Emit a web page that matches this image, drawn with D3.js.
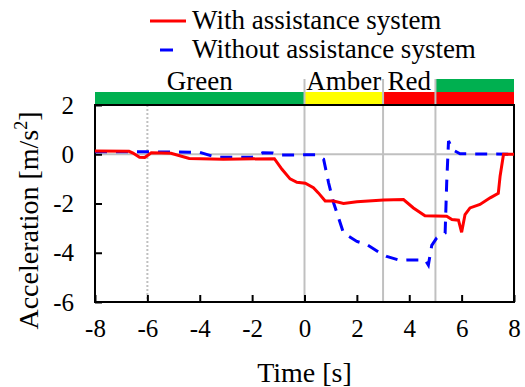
<!DOCTYPE html>
<html>
<head>
<meta charset="utf-8">
<script src="https://cdn.jsdelivr.net/npm/d3@7"></script>
<style>
  body { margin: 0; background: #fff; }
  svg text { font-family: "Liberation Serif", "Times New Roman", serif; fill: #000; }
</style>
</head>
<body>
<svg id="chart" width="525" height="387"></svg>
<script>
// data: [time s, acceleration m/s^2]
const withSystem = [
  [-8, 0.13], [-6.7, 0.12], [-6.55, 0.05], [-6.3, -0.12], [-6.1, -0.13], [-5.85, 0.06],
  [-5.1, 0.04], [-4.4, -0.17], [-3.1, -0.2], [-1.15, -0.18], [-0.86, -0.61],
  [-0.55, -1.0], [-0.29, -1.14], [0.03, -1.18], [0.34, -1.36], [0.53, -1.57],
  [0.79, -1.9], [1.11, -1.9], [1.49, -2.0], [2.0, -1.93], [3.02, -1.86],
  [3.78, -1.84], [4.16, -2.18], [4.6, -2.5], [5.43, -2.52], [5.63, -2.65],
  [5.88, -2.68], [6.0, -3.17], [6.13, -2.45], [6.32, -2.18], [6.7, -2.04],
  [7.09, -1.77], [7.4, -1.59], [7.47, -0.88], [7.6, 0.0], [8, 0.0]
];
const withoutSystem = [
  [-8, 0.1], [-6.3, 0.1], [-4.0, 0.08], [-3.4, -0.12], [-2.0, -0.12], [-1.6, 0.06],
  [-1.2, 0.05], [-0.9, -0.03], [0.47, -0.02], [0.73, -0.2], [0.92, -1.16],
  [1.11, -1.97], [1.49, -3.2], [2.0, -3.54], [2.38, -3.67], [2.89, -4.01],
  [3.14, -4.15], [3.65, -4.31], [4.1, -4.29], [4.61, -4.29], [4.73, -4.5],
  [4.86, -3.7], [5.05, -3.4], [5.37, -3.2], [5.43, -1.16], [5.5, 0.54],
  [5.66, 0.18], [5.94, 0.02], [8, 0.0]
];

const phases = [
  { name: "Green", from: -8, to: 0, color: "#00b050" },
  { name: "Amber", from: 0, to: 3, color: "#ffff00" },
  { name: "Red", from: 3, to: 5, color: "#ff0000" },
  { name: "", from: 5, to: 8, color: "#ff0000" }
];
const extraPhase = { from: 5, to: 8, color: "#00b050" }; // green drawn on top of red after 5 s

const xTicks = [-8, -6, -4, -2, 0, 2, 4, 6, 8];
const yTicks = [-6, -4, -2, 0, 2];
const phaseLines = [0, 3, 5];

const serif = '"Liberation Serif", "Times New Roman", serif';
const svg = d3.select("#chart");
const margin = { left: 95, right: 11, top: 105, bottom: 85 };
const width = 525, height = 387;

const x = d3.scaleLinear().domain([-8, 8]).range([margin.left, width - margin.right]);
const y = d3.scaleLinear().domain([-6, 2]).range([height - margin.bottom, margin.top]);

// phase bars above the plot
const barH = 13;
svg.selectAll(".phase").data(phases).enter().append("rect")
  .attr("x", d => x(d.from)).attr("width", d => x(d.to) - x(d.from))
  .attr("y", y(2) - barH).attr("height", barH)
  .attr("fill", d => d.color);
svg.append("rect")
  .attr("x", x(extraPhase.from)).attr("width", x(extraPhase.to) - x(extraPhase.from))
  .attr("y", y(2) - 2 * barH).attr("height", barH)
  .attr("fill", extraPhase.color);

svg.selectAll(".phaseLabel").data(phases.filter(d => d.name)).enter().append("text")
  .attr("x", d => (x(d.from) + x(d.to)) / 2)
  .attr("y", y(2) - barH - 2)
  .attr("text-anchor", "middle")
  .style("font-size", "27px")
  .text(d => d.name);

// grey reference lines
svg.append("line")
  .attr("x1", x(-8)).attr("x2", x(8)).attr("y1", y(0)).attr("y2", y(0))
  .attr("stroke", "#c0c0c0").attr("stroke-width", 2);
svg.selectAll(".pl").data(phaseLines).enter().append("line")
  .attr("x1", d => x(d)).attr("x2", d => x(d))
  .attr("y1", y(2) - 2 * barH).attr("y2", y(-6))
  .attr("stroke", "#c0c0c0").attr("stroke-width", 2);
svg.append("line")
  .attr("x1", x(-6)).attr("x2", x(-6)).attr("y1", y(2)).attr("y2", y(-6))
  .attr("stroke", "#c0c0c0").attr("stroke-width", 2).attr("stroke-dasharray", "2,2");

// axes, ticks pointing inward
const xAxis = svg.append("g").attr("transform", `translate(0,${y(-6)})`)
  .call(d3.axisBottom(x).tickValues(xTicks).tickSize(-7).tickPadding(17).tickFormat(d3.format("d")));
const yAxis = svg.append("g").attr("transform", `translate(${x(-8)},0)`)
  .call(d3.axisLeft(y).tickValues(yTicks).tickSize(-7).tickPadding(21).tickFormat(d3.format("d")));
[xAxis, yAxis].forEach(a => {
  a.attr("font-family", serif).attr("font-size", 25);
  a.select(".domain").remove();
  a.selectAll(".tick line").attr("stroke", "#000").attr("stroke-width", 2);
  a.selectAll(".tick text").style("font-family", serif).style("font-size", "25px");
});
xAxis.selectAll(".tick text").text(d => d < 0 ? "-" + Math.abs(d) : d);
yAxis.selectAll(".tick text").text(d => d < 0 ? "-" + Math.abs(d) : d);

// frame
svg.append("rect")
  .attr("x", x(-8)).attr("y", y(2))
  .attr("width", x(8) - x(-8)).attr("height", y(-6) - y(2))
  .attr("fill", "none").attr("stroke", "#000").attr("stroke-width", 2);

// lines
const line = d3.line().x(d => x(d[0])).y(d => y(d[1]));
svg.append("path").datum(withoutSystem).attr("d", line)
  .attr("fill", "none").attr("stroke", "#0000ff").attr("stroke-width", 3)
  .attr("stroke-dasharray", "12,9");
svg.append("path").datum(withSystem).attr("d", line)
  .attr("fill", "none").attr("stroke", "#ff0000").attr("stroke-width", 3);

// axis titles
svg.append("text")
  .attr("x", x(0)).attr("y", 382)
  .attr("text-anchor", "middle").style("font-size", "28px")
  .text("Time [s]");
const yl = svg.append("text")
  .attr("transform", `translate(38,${(y(-6) + y(2)) / 2 + 17}) rotate(-90)`)
  .attr("text-anchor", "middle").style("font-size", "28px");
yl.append("tspan").text("Acceleration [m/s");
yl.append("tspan").attr("dy", -11).style("font-size", "18px").text("2");
yl.append("tspan").attr("dy", 11).text("]");

// legend
const legend = [
  { name: "With assistance system", color: "#ff0000", x1: 0, x2: 36 },
  { name: "Without assistance system", color: "#0000ff", x1: 10, x2: 23 }
];
const lg = svg.selectAll(".lg").data(legend).enter().append("g")
  .attr("transform", (d, i) => `translate(150,${21 + i * 29})`);
lg.append("line").attr("x1", d => d.x1).attr("x2", d => d.x2).attr("y1", 0).attr("y2", 0)
  .attr("stroke", d => d.color).attr("stroke-width", 3);
lg.append("text").attr("x", 42).attr("y", 8)
  .style("font-size", "27px").text(d => d.name);
</script>
</body>
</html>
